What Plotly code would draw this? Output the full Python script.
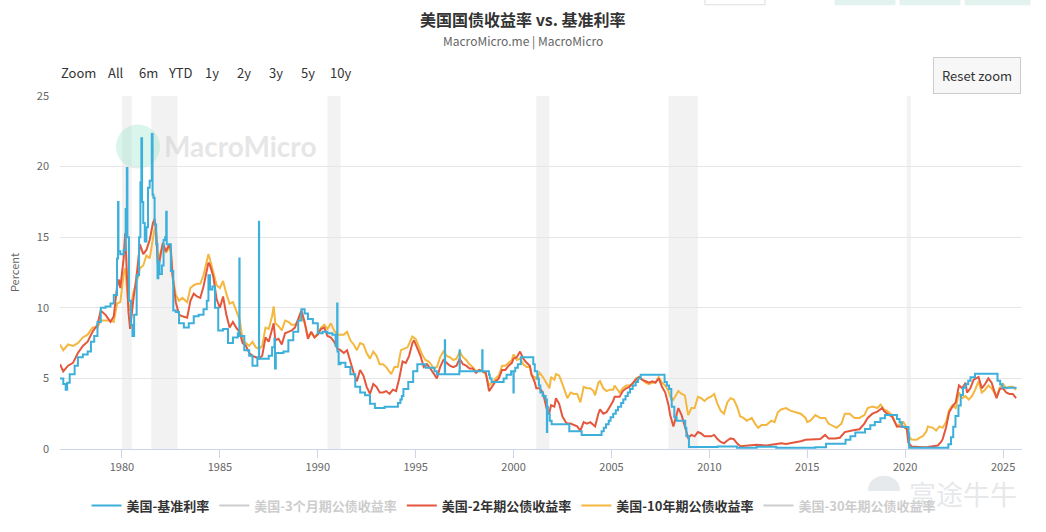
import plotly.graph_objects as go

# ---------------- data ----------------
ff_dates = ["1976-11-01","1977-01-01","1977-02-15","1977-03-15","1977-05-01","1977-08-01","1977-10-01","1978-01-01","1978-04-01",
    "1978-06-01","1978-08-01","1978-10-01","1978-12-01","1979-03-01","1979-06-01","1979-08-01","1979-10-01","1979-10-20",
    "1979-10-28","1979-12-01","1980-02-01","1980-03-10","1980-04-01","1980-04-12","1980-05-10","1980-06-15","1980-07-15",
    "1980-08-15","1980-10-01","1980-11-15","1980-12-10","1980-12-28","1981-01-10","1981-02-01","1981-03-01","1981-04-01",
    "1981-05-01","1981-06-01","1981-07-10","1981-07-25","1981-08-10","1981-09-01","1981-10-01","1981-10-25","1981-11-10",
    "1981-12-01","1982-01-15","1982-02-15","1982-03-15","1982-04-05","1982-04-15","1982-05-15","1982-07-01","1982-08-15",
    "1982-10-01","1982-12-01","1983-03-01","1983-06-01","1983-09-01","1983-12-01","1984-03-01","1984-05-01","1984-06-01",
    "1984-07-01","1984-08-15","1984-10-01","1984-12-01","1985-03-01","1985-06-01","1985-09-01","1985-12-01","1985-12-30",
    "1986-01-03","1986-04-01","1986-07-01","1986-09-01","1986-12-01","1986-12-30","1987-01-03","1987-04-01","1987-07-01",
    "1987-09-01","1987-10-15","1987-10-25","1987-11-10","1988-01-01","1988-04-01","1988-07-01","1988-10-01","1989-01-01",
    "1989-03-01","1989-05-01","1989-07-01","1989-10-01","1990-01-01","1990-04-01","1990-07-01","1990-10-01","1990-12-01",
    "1990-12-29","1991-01-03","1991-01-25","1991-03-01","1991-06-01","1991-09-01","1991-12-01","1992-03-01","1992-06-01",
    "1992-09-01","1992-12-01","1993-06-01","1994-02-04","1994-03-22","1994-04-18","1994-05-17","1994-08-16","1994-11-15",
    "1995-02-01","1995-07-06","1995-12-19","1996-01-31","1996-06-28","1996-07-03","1997-03-25","1997-03-31","1997-04-03",
    "1998-05-27","1998-06-01","1998-09-29","1998-10-15","1998-11-17","1999-06-30","1999-08-24","1999-11-16","1999-12-30",
    "2000-01-04","2000-02-02","2000-03-21","2000-05-16","2001-01-03","2001-01-31","2001-03-20","2001-04-18","2001-05-15",
    "2001-06-27","2001-08-21","2001-09-14","2001-09-20","2001-10-02","2001-11-06","2001-12-11","2002-11-06","2003-06-25",
    "2004-06-30","2004-08-10","2004-09-21","2004-11-10","2004-12-14","2005-02-02","2005-03-22","2005-05-03","2005-06-30",
    "2005-08-09","2005-09-20","2005-11-01","2005-12-13","2006-01-31","2006-03-28","2006-05-10","2006-06-29","2007-09-18",
    "2007-10-31","2007-12-11","2008-01-22","2008-01-30","2008-03-18","2008-04-30","2008-10-08","2008-10-29","2008-12-16",
    "2010-06-01","2011-06-01","2012-06-01","2013-06-01","2014-06-01","2015-06-01","2015-12-17","2016-12-15","2017-03-16",
    "2017-06-15","2017-12-14","2018-03-22","2018-06-14","2018-09-27","2018-12-20","2019-08-01","2019-09-19","2019-10-31",
    "2020-03-04","2020-03-16","2021-06-01","2022-03-17","2022-05-05","2022-06-16","2022-07-28","2022-09-22","2022-11-03",
    "2022-12-15","2023-02-02","2023-03-23","2023-05-04","2023-07-27","2024-09-19","2024-11-08","2024-12-19","2025-09-10"]
ff_vals = [5.0,4.6,4.2,4.7,5.3,5.9,6.5,6.7,6.9,
    7.6,8.0,9.0,10.0,10.1,10.3,10.9,13.5,17.5,
    14.0,13.8,14.1,17.0,19.9,15.0,10.5,8.8,8.0,
    9.5,12.3,15.0,18.9,22.0,17.5,16.0,14.7,15.7,
    18.5,19.0,22.3,18.0,17.8,15.9,14.5,12.1,13.3,
    12.4,13.0,14.8,15.0,16.8,14.5,14.5,12.6,9.8,
    9.7,8.9,8.6,8.9,9.4,9.5,9.9,10.5,12.3,
    11.3,11.5,10.0,8.4,8.5,7.5,7.9,8.2,13.5,
    8.0,7.0,6.6,5.9,6.5,16.1,6.4,6.4,6.6,
    7.2,7.8,5.7,6.8,6.8,6.9,7.7,8.3,9.1,
    9.9,9.6,9.2,8.9,8.2,8.3,8.2,8.1,7.3,
    10.3,6.9,6.0,6.1,5.8,5.3,4.4,4.0,3.8,
    3.2,2.9,3.0,3.25,3.5,3.75,4.25,4.75,5.5,
    6.0,5.75,5.5,5.3,7.7,5.3,5.5,7.0,5.5,
    7.0,5.5,5.25,5.0,4.75,5.0,5.25,5.5,4.0,
    5.5,5.75,6.0,6.5,6.0,5.5,5.0,4.5,4.0,
    3.75,3.5,1.2,3.0,2.5,2.0,1.75,1.25,1.0,
    1.25,1.5,1.75,2.0,2.25,2.5,2.75,3.0,3.25,
    3.5,3.75,4.0,4.25,4.5,4.75,5.0,5.25,4.75,
    4.5,4.25,3.5,3.0,2.25,2.0,1.5,0.9,0.15,
    0.18,0.09,0.16,0.09,0.09,0.13,0.37,0.66,0.91,
    1.16,1.42,1.68,1.91,2.18,2.40,2.13,1.90,1.55,
    1.10,0.08,0.08,0.33,0.83,1.58,2.33,3.08,3.83,
    4.33,4.58,4.83,5.08,5.33,4.83,4.58,4.33,4.33]

t2_dates = ["1976-11","1977-01","1977-04","1977-07","1977-10","1978-01","1978-04","1978-07","1978-10","1978-12",
    "1979-03","1979-06","1979-08","1979-10","1979-11","1979-12","1980-02","1980-03","1980-05","1980-06",
    "1980-08","1980-10","1980-12","1981-02","1981-04","1981-06","1981-08","1981-09","1981-10","1981-11",
    "1981-12","1982-02","1982-04","1982-06","1982-07","1982-08","1982-10","1982-12","1983-02","1983-05",
    "1983-07","1983-09","1983-11","1984-01","1984-03","1984-05","1984-06","1984-07","1984-09","1984-11",
    "1985-01","1985-03","1985-05","1985-07","1985-09","1985-11","1986-01","1986-03","1986-05","1986-07",
    "1986-09","1986-11","1987-01","1987-03","1987-05","1987-07","1987-09","1987-10","1987-11","1988-01",
    "1988-03","1988-05","1988-07","1988-09","1988-11","1989-01","1989-03","1989-05","1989-07","1989-09",
    "1989-11","1990-01","1990-03","1990-05","1990-07","1990-09","1990-11","1991-01","1991-03","1991-05",
    "1991-07","1991-09","1991-11","1992-01","1992-03","1992-05","1992-07","1992-09","1992-11","1993-01",
    "1993-03","1993-05","1993-07","1993-09","1993-11","1994-01","1994-03","1994-05","1994-07","1994-09",
    "1994-11","1994-12","1995-02","1995-04","1995-06","1995-08","1995-10","1995-12","1996-02","1996-04",
    "1996-06","1996-08","1996-10","1996-12","1997-02","1997-04","1997-06","1997-08","1997-10","1997-12",
    "1998-02","1998-04","1998-06","1998-08","1998-10","1998-12","1999-02","1999-04","1999-06","1999-08",
    "1999-10","1999-12","2000-01","2000-03","2000-05","2000-07","2000-09","2000-11","2000-12","2001-02",
    "2001-03","2001-05","2001-07","2001-09","2001-10","2001-11","2001-12","2002-02","2002-03","2002-05",
    "2002-07","2002-09","2002-10","2002-12","2003-02","2003-04","2003-06","2003-08","2003-10","2003-12",
    "2004-02","2004-03","2004-05","2004-06","2004-08","2004-10","2004-12","2005-02","2005-03","2005-06",
    "2005-08","2005-10","2005-12","2006-02","2006-04","2006-06","2006-08","2006-10","2006-12","2007-02",
    "2007-04","2007-06","2007-08","2007-10","2007-12","2008-01","2008-03","2008-06","2008-08","2008-10",
    "2008-12","2009-02","2009-04","2009-06","2009-08","2009-10","2009-12","2010-02","2010-04","2010-06",
    "2010-08","2010-10","2010-12","2011-02","2011-04","2011-06","2011-08","2011-12","2012-06","2012-12",
    "2013-06","2013-09","2013-12","2014-03","2014-06","2014-09","2014-12","2015-03","2015-06","2015-09",
    "2015-12","2016-02","2016-06","2016-09","2016-12","2017-03","2017-06","2017-09","2017-12","2018-02",
    "2018-05","2018-08","2018-11","2018-12","2019-02","2019-05","2019-08","2019-09","2019-12","2020-02",
    "2020-03","2020-05","2020-08","2020-12","2021-03","2021-06","2021-09","2021-11","2021-12","2022-02",
    "2022-04","2022-06","2022-08","2022-10","2022-12","2023-02","2023-03","2023-05","2023-07","2023-10",
    "2023-12","2024-02","2024-04","2024-06","2024-09","2024-11","2025-01","2025-03","2025-05","2025-07","2025-09"]
t2_vals = [6.0,5.5,5.9,6.1,6.8,7.3,7.6,8.3,8.8,9.8,
    9.5,9.0,9.4,11.5,12.0,11.4,13.5,15.3,9.7,8.5,
    10.6,12.3,14.5,13.8,14.1,14.8,16.0,16.3,15.3,13.0,
    13.3,14.6,14.0,14.5,14.1,12.3,10.4,9.5,9.4,9.3,
    10.5,11.0,10.8,10.7,11.5,12.6,13.2,13.0,12.2,10.6,
    10.0,10.8,9.5,8.6,9.0,8.6,8.3,7.5,7.3,6.8,
    6.6,6.5,6.4,6.6,7.9,7.6,8.6,8.9,7.7,7.8,
    7.4,8.2,8.3,8.4,8.6,9.2,9.8,9.0,7.8,8.3,
    7.9,8.1,8.5,8.6,8.0,7.9,7.6,7.1,7.0,6.8,
    7.0,6.2,5.4,4.8,5.6,5.2,4.4,3.9,4.6,4.4,
    4.0,4.0,4.1,3.9,4.2,4.1,5.0,6.2,6.1,6.6,
    7.5,7.7,7.2,6.6,5.8,6.0,5.7,5.3,5.0,5.8,
    6.3,6.1,5.9,5.8,5.9,6.4,6.0,5.9,5.7,5.7,
    5.4,5.6,5.5,5.4,4.1,4.5,4.8,5.0,5.6,5.6,
    5.9,6.1,6.4,6.5,6.9,6.4,6.1,5.9,5.3,4.7,
    4.3,4.3,4.0,3.0,2.5,2.6,3.1,3.0,3.6,3.2,
    2.3,1.9,1.8,1.8,1.7,1.6,1.3,1.9,1.8,1.9,
    1.7,1.6,2.5,2.8,2.5,2.6,3.0,3.4,3.7,3.7,
    4.1,4.3,4.4,4.7,4.9,5.1,4.9,4.8,4.7,4.8,
    4.7,5.0,4.4,4.0,3.1,2.4,1.6,2.9,2.4,1.6,
    0.8,1.0,0.9,1.2,1.1,0.9,0.9,0.9,1.0,0.7,
    0.5,0.4,0.6,0.75,0.7,0.4,0.2,0.25,0.3,0.25,
    0.35,0.4,0.35,0.4,0.45,0.55,0.65,0.65,0.65,0.7,
    1.0,0.75,0.75,0.8,1.2,1.3,1.35,1.4,1.8,2.2,
    2.5,2.65,2.9,2.7,2.5,2.3,1.6,1.6,1.6,1.4,
    0.45,0.17,0.14,0.13,0.15,0.2,0.25,0.5,0.7,1.5,
    2.6,3.0,3.3,4.5,4.3,4.7,4.0,4.3,4.9,5.1,
    4.3,4.6,5.0,4.7,3.6,4.25,4.3,4.0,3.9,3.9,3.6]

t10_dates = ["1976-11","1977-01","1977-04","1977-07","1977-10","1978-01","1978-04","1978-07","1978-10","1978-12",
    "1979-03","1979-06","1979-08","1979-10","1979-12","1980-02","1980-03","1980-05","1980-06","1980-08",
    "1980-10","1980-12","1981-02","1981-04","1981-06","1981-08","1981-09","1981-10","1981-11","1981-12",
    "1982-02","1982-04","1982-06","1982-07","1982-08","1982-10","1982-12","1983-02","1983-05","1983-07",
    "1983-09","1983-11","1984-01","1984-03","1984-05","1984-06","1984-07","1984-09","1984-11","1985-01",
    "1985-03","1985-05","1985-07","1985-09","1985-11","1986-01","1986-03","1986-05","1986-07","1986-09",
    "1986-11","1987-01","1987-03","1987-05","1987-07","1987-09","1987-10","1987-11","1988-01","1988-03",
    "1988-05","1988-07","1988-09","1988-11","1989-01","1989-03","1989-05","1989-07","1989-09","1989-11",
    "1990-01","1990-03","1990-05","1990-07","1990-09","1990-11","1991-01","1991-03","1991-05","1991-07",
    "1991-09","1991-11","1992-01","1992-03","1992-05","1992-07","1992-09","1992-11","1993-01","1993-03",
    "1993-05","1993-07","1993-09","1993-10","1993-12","1994-02","1994-04","1994-06","1994-08","1994-10",
    "1994-11","1995-01","1995-03","1995-05","1995-07","1995-09","1995-11","1995-12","1996-02","1996-04",
    "1996-06","1996-08","1996-10","1996-12","1997-02","1997-04","1997-06","1997-08","1997-10","1997-12",
    "1998-02","1998-04","1998-06","1998-08","1998-10","1998-12","1999-02","1999-04","1999-06","1999-08",
    "1999-10","1999-12","2000-01","2000-03","2000-05","2000-07","2000-09","2000-11","2000-12","2001-02",
    "2001-03","2001-05","2001-07","2001-09","2001-10","2001-11","2001-12","2002-02","2002-03","2002-05",
    "2002-07","2002-09","2002-10","2002-12","2003-02","2003-04","2003-06","2003-08","2003-10","2003-12",
    "2004-02","2004-03","2004-05","2004-06","2004-08","2004-10","2004-12","2005-02","2005-03","2005-06",
    "2005-08","2005-10","2005-12","2006-02","2006-04","2006-06","2006-08","2006-10","2006-12","2007-02",
    "2007-04","2007-06","2007-08","2007-10","2007-12","2008-01","2008-03","2008-06","2008-08","2008-10",
    "2008-12","2009-02","2009-04","2009-06","2009-08","2009-10","2009-12","2010-02","2010-04","2010-06",
    "2010-08","2010-10","2010-12","2011-02","2011-04","2011-06","2011-08","2011-10","2011-12","2012-03",
    "2012-05","2012-07","2012-09","2012-12","2013-03","2013-05","2013-07","2013-09","2013-12","2014-03",
    "2014-06","2014-09","2014-12","2015-01","2015-03","2015-06","2015-09","2015-12","2016-02","2016-07",
    "2016-10","2016-12","2017-03","2017-06","2017-09","2017-12","2018-02","2018-05","2018-08","2018-10",
    "2018-12","2019-02","2019-05","2019-08","2019-09","2019-12","2020-02","2020-03","2020-05","2020-08",
    "2020-10","2020-12","2021-02","2021-03","2021-06","2021-08","2021-10","2021-12","2022-02","2022-04",
    "2022-06","2022-08","2022-10","2022-12","2023-02","2023-04","2023-06","2023-08","2023-10","2023-12",
    "2024-02","2024-04","2024-06","2024-09","2024-11","2025-01","2025-03","2025-05","2025-07","2025-09"]
t10_vals = [7.4,7.0,7.4,7.3,7.5,7.9,8.1,8.6,8.6,9.1,
    9.1,9.1,9.0,10.3,10.4,12.4,12.8,10.2,9.8,11.1,
    11.8,12.8,13.0,13.7,13.5,14.9,15.6,15.1,13.4,13.7,
    14.4,13.9,14.3,13.9,12.3,10.9,10.5,10.7,10.4,11.4,
    11.6,11.7,11.7,12.3,13.4,13.8,13.4,12.5,11.6,11.4,
    11.9,11.0,10.3,10.4,9.8,9.2,7.8,7.5,7.3,7.6,
    7.2,7.1,7.3,8.6,8.5,9.4,10.1,8.9,8.7,8.4,
    9.1,9.0,8.8,8.8,9.1,9.4,8.9,8.0,8.2,7.9,
    8.2,8.6,8.8,8.5,8.9,8.4,8.1,8.1,8.1,8.3,
    7.7,7.4,7.0,7.5,7.4,6.8,6.4,6.9,6.6,6.0,
    6.0,5.8,5.4,5.3,5.8,5.8,7.0,7.1,7.2,7.7,
    7.96,7.8,7.2,6.7,6.3,6.2,5.9,5.7,5.8,6.5,
    6.9,6.6,6.5,6.3,6.4,6.9,6.5,6.3,6.0,5.8,
    5.5,5.6,5.5,5.3,4.5,4.7,5.0,5.2,5.9,5.9,
    6.1,6.3,6.7,6.3,6.4,6.0,5.8,5.8,5.2,5.1,
    4.9,5.4,5.1,4.7,4.6,4.3,5.1,4.9,5.3,5.2,
    4.6,3.9,3.6,4.0,3.9,3.9,3.3,4.4,4.3,4.3,
    4.1,3.8,4.7,4.8,4.3,4.1,4.2,4.2,4.5,4.0,
    4.3,4.5,4.5,4.6,5.0,5.1,4.9,4.7,4.6,4.7,
    4.7,5.1,4.7,4.5,4.1,3.7,3.5,4.1,3.9,3.8,
    2.4,2.9,2.9,3.7,3.6,3.4,3.6,3.7,3.9,3.2,
    2.7,2.5,3.3,3.6,3.5,3.0,2.3,2.2,2.0,2.2,
    1.8,1.5,1.7,1.7,2.0,1.9,2.6,2.8,2.9,2.7,
    2.6,2.5,2.2,1.9,2.0,2.4,2.2,2.2,1.8,1.5,
    1.8,2.5,2.5,2.2,2.2,2.4,2.9,3.0,2.9,3.15,
    2.8,2.7,2.4,1.6,1.7,1.9,1.5,0.9,0.67,0.65,
    0.8,0.93,1.26,1.6,1.5,1.3,1.6,1.5,1.9,2.75,
    3.1,2.9,4.0,3.6,3.75,3.5,3.75,4.2,4.8,4.0,
    4.2,4.5,4.3,3.7,4.35,4.6,4.3,4.4,4.4,4.2]

# series switched off in the reference (shown only, greyed, in the legend)
t3m_dates = ["1977","1980","1985","1990","1995","2000","2005","2010","2015","2020","2025"]
t3m_vals = [5.3, 11.5, 7.5, 7.5, 5.5, 5.9, 3.2, 0.14, 0.05, 0.37, 4.3]
t30_dates = ["1977","1980","1985","1990","1995","2000","2006","2010","2015","2020","2025"]
t30_vals = [7.75, 11.3, 10.8, 8.6, 6.9, 5.9, 4.9, 4.25, 2.84, 1.56, 4.8]

recessions = [("1980-01-01","1980-07-01"),("1981-07-01","1982-11-01"),("1990-07-01","1991-03-01"),
              ("2001-03-01","2001-11-01"),("2007-12-01","2009-06-01"),("2020-02-01","2020-04-15")]

range_labels = ["All", "6m", "YTD", "1y", "2y", "3y", "5y", "10y"]

# ---------------- figure ----------------
FONT = "Noto Sans CJK SC, Liberation Sans, sans-serif"
L, T, W, H = 60, 96, 962, 356
def px(xp): return (xp - L) / W
def py(yp): return (T + H - yp) / H

fig = go.Figure()
# draw order: 10y at the bottom, then 2y, then policy rate on top; legendrank gives the legend order
fig.add_trace(go.Scatter(x=t10_dates, y=t10_vals, name="美国-10年期公债收益率", mode="lines", legendrank=4,
                         line=dict(color="#f4b73f", width=2)))
fig.add_trace(go.Scatter(x=t2_dates, y=t2_vals, name="美国-2年期公债收益率", mode="lines", legendrank=3,
                         line=dict(color="#e4573d", width=2)))
fig.add_trace(go.Scatter(x=ff_dates, y=ff_vals, name="美国-基准利率", mode="lines", legendrank=1,
                         line=dict(color="#3cb0da", width=2, shape="hv")))
fig.add_trace(go.Scatter(x=t3m_dates, y=t3m_vals, name="<span style='color:#9a9a9a'>美国-3个月期公债收益率</span>",
                         mode="lines", legendrank=2, visible="legendonly", line=dict(color="#9a9a9a", width=2)))
fig.add_trace(go.Scatter(x=t30_dates, y=t30_vals, name="<span style='color:#9a9a9a'>美国-30年期公债收益率</span>",
                         mode="lines", legendrank=5, visible="legendonly", line=dict(color="#9a9a9a", width=2)))

shapes = []
for a, b in recessions:
    shapes.append(dict(type="rect", xref="x", yref="paper", x0=a, x1=b, y0=0, y1=1,
                       fillcolor="#f2f2f2", line=dict(width=0), layer="below"))
# watermark logos
shapes.append(dict(type="circle", xref="paper", yref="paper", xsizemode="pixel", ysizemode="pixel",
                   xanchor=px(138), yanchor=py(147), x0=-22, x1=22, y0=-22, y1=22,
                   fillcolor="rgba(150,225,200,0.35)", line=dict(width=0), layer="below"))
shapes.append(dict(type="circle", xref="paper", yref="paper", xsizemode="pixel", ysizemode="pixel",
                   xanchor=px(884), yanchor=py(493), x0=-16, x1=16, y0=-14, y1=14,
                   fillcolor="rgba(215,220,224,0.6)", line=dict(width=0), layer="below"))
# page fragments at the top edge
for x0, x1, fc, lc in [(705, 765, "#ffffff", "#dddddd"), (835, 895, "#e2f3ef", "#e2f3ef"),
                       (900, 960, "#e2f3ef", "#e2f3ef"), (965, 1030, "#e2f3ef", "#e2f3ef")]:
    shapes.append(dict(type="rect", xref="paper", yref="paper", x0=px(x0), x1=px(x1),
                       y0=py(4), y1=py(-2), fillcolor=fc, line=dict(color=lc, width=1)))

def note(text, x, y, size, color, xanchor="center", **kw):
    return dict(text=text, xref="paper", yref="paper", x=px(x), y=py(y), xanchor=xanchor, yanchor="middle",
                showarrow=False, font=dict(family=kw.pop("family", FONT), size=size, color=color), **kw)

annotations = [
    note("<b>美国国债收益率 vs. 基准利率</b>", 523, 18, 16, "#333333"),
    note("MacroMicro.me | MacroMicro", 523, 41, 12, "#666666"),
    note("Zoom", 59, 72, 13, "#333333", xanchor="left"),
    note("Reset zoom", 977, 75, 13, "#333333", bgcolor="#f7f7f7", bordercolor="#cccccc",
         borderwidth=1, borderpad=8),
    note("<b>MacroMicro</b>", 162, 146, 28, "rgba(205,205,205,0.5)", xanchor="left", family="Lato, Noto Sans"),
    note("富途牛牛", 907, 497, 27, "rgba(205,210,214,0.5)", xanchor="left"),
]
for i, lab in enumerate(range_labels):
    annotations.append(note(lab, 116 + 32 * i, 72, 13, "#333333"))

fig.update_layout(
    width=1046, height=532, margin=dict(l=L, r=1046 - L - W, t=T, b=532 - T - H),
    paper_bgcolor="white", plot_bgcolor="white",
    font=dict(family=FONT, color="#666666"),
    showlegend=True,
    legend=dict(orientation="h", x=px(514), xanchor="center", y=py(509), yanchor="middle",
                font=dict(family=FONT, size=13, color="#333333", weight="bold"), traceorder="normal",
                itemwidth=30),
    shapes=shapes, annotations=annotations,
    xaxis=dict(type="date", range=["1976-11-01", "2025-12-20"], tick0="1980-01-01", dtick="M60",
               tickformat="%Y", ticks="outside", ticklen=8, tickcolor="#ccd6eb", showline=True,
               linecolor="#ccd6eb", linewidth=1, showgrid=False, zeroline=False,
               tickfont=dict(size=11, color="#666666")),
    yaxis=dict(range=[0, 25], dtick=5, showgrid=True, gridcolor="#e6e6e6", zeroline=False,
               tickfont=dict(size=11, color="#666666"), ticklabelstandoff=10,
               title=dict(text="Percent", font=dict(size=11, color="#666666"), standoff=14)),
)

fig.write_html("out.html")
